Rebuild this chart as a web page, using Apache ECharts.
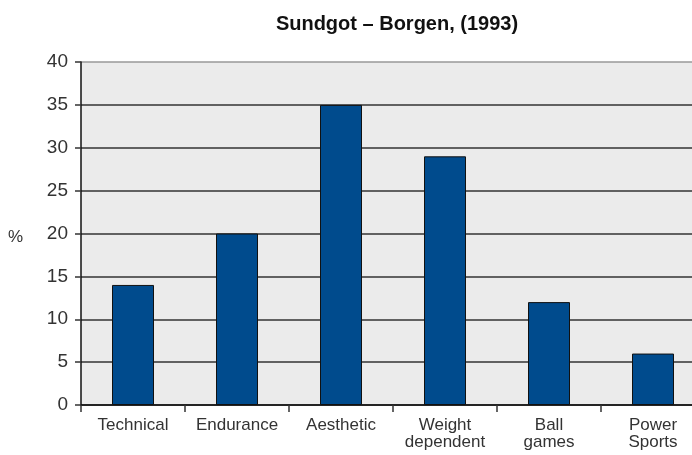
<!DOCTYPE html>
<html><head><meta charset="utf-8">
<script src="https://cdn.jsdelivr.net/npm/echarts@6/dist/echarts.min.js"></script>
<style>html,body{margin:0;padding:0;background:#fff;overflow:hidden;width:692px;height:455px}#c{width:705px;height:455px}</style>
</head><body><div id="c"></div>
<script>
const categories = ['Technical', 'Endurance', 'Aesthetic', 'Weight\ndependent', 'Ball\ngames', 'Power\nSports'];
const values = [14, 20, 35, 29, 12, 6];
const yTicks = [0, 5, 10, 15, 20, 25, 30, 35, 40];

const chart = echarts.init(document.getElementById('c'));
chart.setOption({
  animation: false,
  backgroundColor: '#fff',
  title: {
    text: 'Sundgot \u2013 Borgen, (1993)',
    left: 392, top: 9, textAlign: 'center',
    textStyle: {fontFamily: 'Liberation Sans, Arial', fontSize: 20, fontWeight: 'bold', color: '#111'}
  },
  grid: {left: 81, top: 62, right: 0, bottom: 50, containLabel: false},
  graphic: [{
    type: 'text', left: 8, top: 229,
    style: {text: '%', fontFamily: 'Liberation Sans, Arial', fontSize: 17, fill: '#333'}
  }],
  xAxis: {
    type: 'category', data: categories,
    axisLine: {show: true, lineStyle: {color: '#111', width: 1.5}},
    axisTick: {show: true, alignWithLabel: false, length: 7, lineStyle: {color: '#333', width: 1.5}},
    axisLabel: {color: '#333', fontFamily: 'Liberation Sans, Arial', fontSize: 17, lineHeight: 17, margin: 12, interval: 0}
  },
  yAxis: {
    type: 'value', min: yTicks[0], max: yTicks[yTicks.length - 1], interval: 5,
    axisLine: {show: true, lineStyle: {color: '#111', width: 1.5}},
    axisTick: {show: true, length: 6, lineStyle: {color: '#333', width: 1.5}},
    axisLabel: {color: '#333', fontFamily: 'Liberation Sans, Arial', fontSize: 19, margin: 13},
    splitLine: {show: true, lineStyle: {color: ['#333','#333','#333','#333','#333','#333','#333','#333','#999'], width: 1.5}},
    splitArea: {show: true, areaStyle: {color: ['#ebebeb']}}
  },
  series: [{
    type: 'bar', data: values, barWidth: 42,
    itemStyle: {color: '#004b8d', borderColor: '#111', borderWidth: 1}
  }]
});
</script></body></html>
